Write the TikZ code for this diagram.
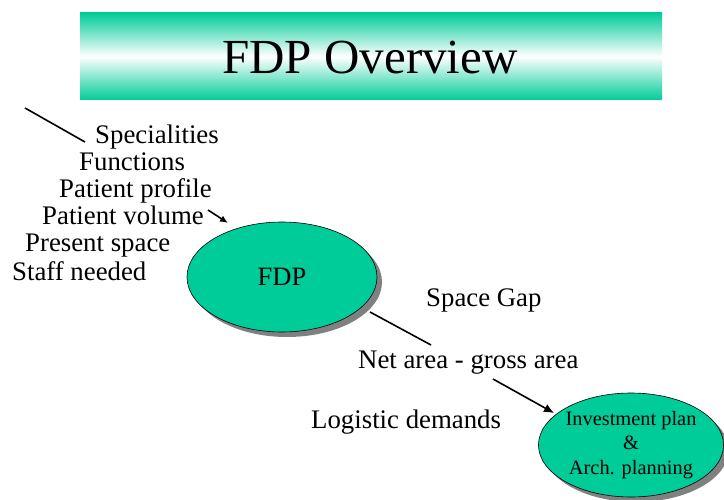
\documentclass[tikz,border=0pt]{standalone}
\usepackage{fontspec}
\setmainfont{Liberation Serif}
\usetikzlibrary{arrows.meta,shapes.geometric,shadows}
\definecolor{fdpgreen}{RGB}{0,204,153}
\definecolor{shadowgray}{RGB}{128,128,128}
\begin{document}
\begin{tikzpicture}[x=1pt,y=-1pt,
  txt/.style={inner sep=0pt,anchor=base west,font=\fontsize{26.8}{31}\selectfont},
  bubble/.style={ellipse,draw=black,line width=0.6pt,fill=fdpgreen,inner sep=0pt,
     drop shadow={shadow xshift=5pt,shadow yshift=-5pt,fill=shadowgray,opacity=1}},
  conn/.style={line width=1.6pt,black},
  tip/.style={-{Latex[length=10pt,width=9pt]}}]
\useasboundingbox (0,0) rectangle (724,500);
% title banner
\shade[top color=fdpgreen,bottom color=fdpgreen,middle color=white] (80,13) rectangle (662,100);
\node[font=\fontsize{49}{55}\selectfont,inner sep=0pt] (title) at (370,58) {FDP Overview};
% list
\node[txt] (spec) at (95,144) {Specialities};
\node[txt] (func) at (79,171) {Functions};
\node[txt] (pprof) at (59,198) {Patient profile};
\node[txt] (pvol) at (42,225) {Patient volume};
\node[txt] (pres) at (25,252) {Present space};
\node[txt] (staff) at (12,280) {Staff needed};
% ellipses
\node[bubble,minimum width=190pt,minimum height=110pt,font=\fontsize{26.5}{30}\selectfont] (fdp) at (282,277) {FDP};
\node[bubble,minimum width=182pt,minimum height=104pt,align=center,font=\fontsize{20.4}{24.5}\selectfont] (inv) at (631,445) {Investment plan\\\&\\Arch. planning};
% right texts
\node[txt] (gap) at (426,307) {Space Gap};
\node[txt] (net) at (358,368) {Net area - gross area};
\node[txt] (log) at (311,428) {Logistic demands};
% connectors
\coordinate (c1) at (25,108);
\coordinate (c2) at (85,142);
\draw[conn] (c1) -- (c2);
\coordinate (a1) at (208,210);
\coordinate (a2) at (228,223);
\draw[conn,-{Latex[length=8pt,width=7pt]}] (a1) -- (a2);
\coordinate (d1) at (370,312);
\coordinate (d2) at (431,345);
\draw[conn] (d1) -- (d2);
\coordinate (e1) at (493,379);
\coordinate (e2) at (554,413);
\draw[conn,tip] (e1) -- (e2);
\end{tikzpicture}
\end{document}
